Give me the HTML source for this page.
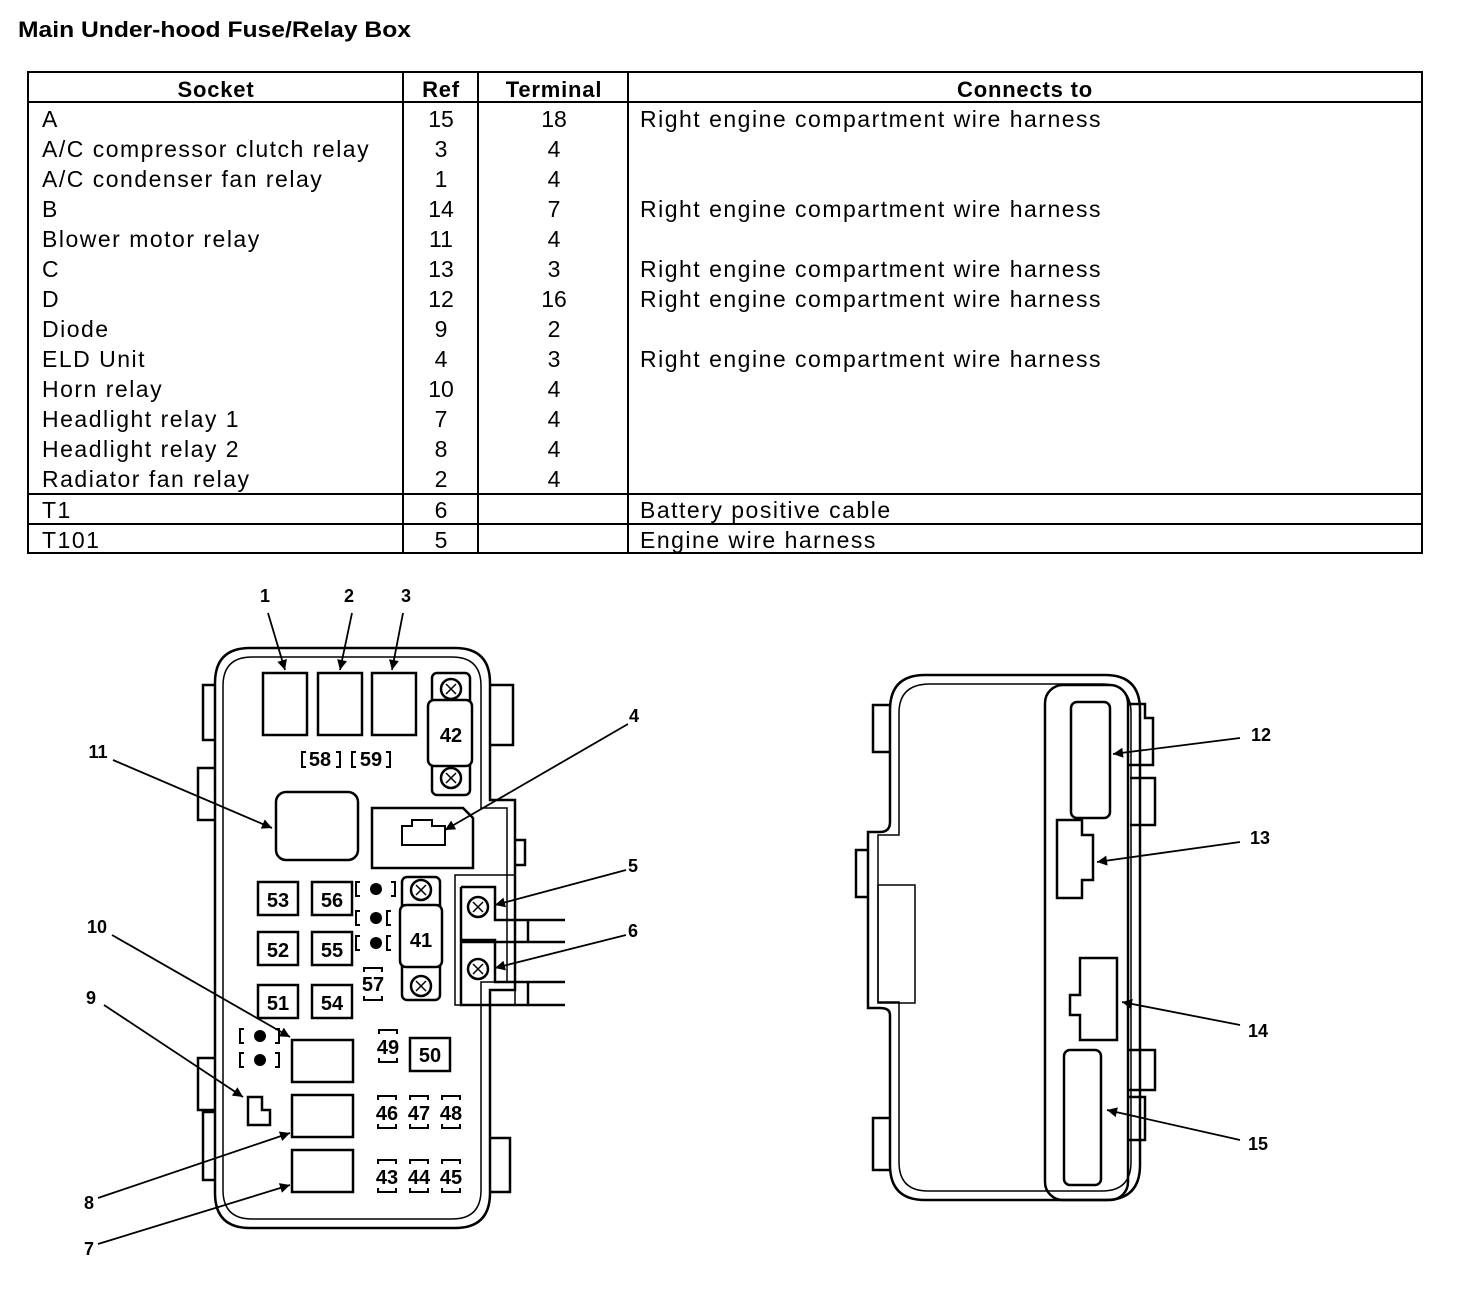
<!DOCTYPE html>
<html><head><style>
html,body{margin:0;padding:0;background:#fff;}
svg{display:block}
text{font-family:"Liberation Sans",Arial,sans-serif;fill:#000}
.b{font-weight:bold}
.t{letter-spacing:1.5px}
</style></head><body>
<svg width="1472" height="1294" viewBox="0 0 1472 1294" xmlns="http://www.w3.org/2000/svg">
<defs><marker id="ah" viewBox="0 0 10 10" refX="10" refY="5" markerWidth="20" markerHeight="10" orient="auto" markerUnits="userSpaceOnUse"><path d="M0,0L10,5L0,10z" fill="#000"/></marker></defs>
<text x="18" y="37" class="b" font-size="22" textLength="393" lengthAdjust="spacingAndGlyphs">Main Under-hood Fuse/Relay Box</text>
<g stroke="#000" stroke-width="2" fill="none">
<rect x="28" y="72" width="1394" height="481"/>
<line x1="28" y1="102" x2="1422" y2="102"/>
<line x1="28" y1="494" x2="1422" y2="494"/>
<line x1="28" y1="524" x2="1422" y2="524"/>
<line x1="403" y1="72" x2="403" y2="553"/>
<line x1="478" y1="72" x2="478" y2="553"/>
<line x1="628" y1="72" x2="628" y2="553"/>
</g>
<g font-size="22" class="b" text-anchor="middle" letter-spacing="0.8">
<text x="216" y="97">Socket</text><text x="441" y="97">Ref</text><text x="554" y="97">Terminal</text><text x="1025" y="97">Connects to</text>
</g>
<g font-size="23" class="t">
<text x="42" y="127">A</text>
<text x="42" y="157">A/C compressor clutch relay</text>
<text x="42" y="187">A/C condenser fan relay</text>
<text x="42" y="217">B</text>
<text x="42" y="247">Blower motor relay</text>
<text x="42" y="277">C</text>
<text x="42" y="307">D</text>
<text x="42" y="337">Diode</text>
<text x="42" y="367">ELD Unit</text>
<text x="42" y="397">Horn relay</text>
<text x="42" y="427">Headlight relay 1</text>
<text x="42" y="457">Headlight relay 2</text>
<text x="42" y="487">Radiator fan relay</text>
<text x="42" y="518">T1</text>
<text x="42" y="548">T101</text>
</g>
<g font-size="23" text-anchor="middle">
<text x="441" y="127">15</text><text x="441" y="157">3</text><text x="441" y="187">1</text><text x="441" y="217">14</text><text x="441" y="247">11</text><text x="441" y="277">13</text><text x="441" y="307">12</text><text x="441" y="337">9</text><text x="441" y="367">4</text><text x="441" y="397">10</text><text x="441" y="427">7</text><text x="441" y="457">8</text><text x="441" y="487">2</text><text x="441" y="518">6</text><text x="441" y="548">5</text>
<text x="554" y="127">18</text><text x="554" y="157">4</text><text x="554" y="187">4</text><text x="554" y="217">7</text><text x="554" y="247">4</text><text x="554" y="277">3</text><text x="554" y="307">16</text><text x="554" y="337">2</text><text x="554" y="367">3</text><text x="554" y="397">4</text><text x="554" y="427">4</text><text x="554" y="457">4</text><text x="554" y="487">4</text>
</g>
<g font-size="23" class="t">
<text x="640" y="127">Right engine compartment wire harness</text>
<text x="640" y="217">Right engine compartment wire harness</text>
<text x="640" y="277">Right engine compartment wire harness</text>
<text x="640" y="307">Right engine compartment wire harness</text>
<text x="640" y="367">Right engine compartment wire harness</text>
<text x="640" y="518">Battery positive cable</text>
<text x="640" y="548">Engine wire harness</text>
</g>

<!-- LEFT BOX -->
<g stroke="#000" fill="none" stroke-width="2.5">
<path d="M250,648 H455 Q490,648 490,683 V800 H515 V990 H490 V1193 Q490,1228 455,1228 H250 Q215,1228 215,1193 V683 Q215,648 250,648 Z"/>
<path d="M252,657 H452 Q481,657 481,686 V808 H507 V982 H481 V1190 Q481,1219 452,1219 H252 Q223,1219 223,1190 V686 Q223,657 252,657 Z" stroke-width="1.5"/>
<path d="M215,685 H203 V740 H215 M215,768 H198 V820 H215 M215,1058 H198 V1110 H215 M215,1112 H203 V1180 H215"/>
<path d="M490,685 H513 V745 H490 M490,1138 H510 V1192 H490 M515,840 H525 V865 H515"/>
<rect x="263" y="673" width="44" height="62"/><rect x="318" y="673" width="44" height="62"/><rect x="372" y="673" width="44" height="62"/>
<rect x="432" y="673" width="38" height="122" rx="5"/>
<rect x="428" y="700" width="44" height="66" rx="6" fill="#fff"/>
<circle cx="451" cy="689" r="10"/><circle cx="451" cy="778" r="10"/>
<path d="M306,752 h-4 v15 h4 M336,752 h4 v15 h-4 M356,752 h-4 v15 h4 M386,752 h4 v15 h-4" stroke-width="2"/>
<rect x="276" y="792" width="82" height="68" rx="10"/>
<path d="M372,808 H463 L473,818 V868 H372 Z"/>
<path d="M402,845 V826 H412 V820 H432 V826 H445 V845 Z" stroke-width="2"/>
<rect x="455" y="875" width="60" height="130" stroke-width="1.5"/>
<path d="M461,887 H495 V920 H565 M461,887 V942 H565 M461,940 H495 V982 H565 M461,940 V1005 H565" />
<path d="M528,920 V942 M528,982 V1005"/>
<circle cx="478" cy="907" r="10"/><circle cx="478" cy="969" r="10"/>
<rect x="402" y="877" width="38" height="123" rx="5"/>
<rect x="400" y="905" width="42" height="62" rx="6" fill="#fff"/>
<circle cx="421" cy="890" r="10"/><circle cx="421" cy="986" r="10"/>
<rect x="258" y="882" width="40" height="33"/><rect x="312" y="882" width="40" height="33"/>
<rect x="258" y="932" width="40" height="33"/><rect x="312" y="932" width="40" height="33"/>
<rect x="258" y="985" width="40" height="33"/><rect x="312" y="985" width="40" height="33"/>
<rect x="410" y="1038" width="40" height="33"/>
<rect x="292" y="1040" width="61" height="42"/><rect x="292" y="1095" width="61" height="42"/><rect x="292" y="1150" width="61" height="42"/>
<path d="M248,1097 H262 V1110 H270 V1125 H248 Z"/>
</g>
<g stroke="#000" fill="none" stroke-width="2">
<path d="M360,882 h-4 v14 h4 M391,882 h4 v14 h-4 M360,911 h-4 v14 h4 M391,911 h-4 v14 h4 M360,936 h-4 v14 h4 M391,936 h-4 v14 h4"/>
<path d="M244,1029 h-4 v14 h4 M275,1029 h4 v14 h-4 M244,1053 h-4 v14 h4 M275,1053 h4 v14 h-4"/>
<path d="M364,972 v-4 h18 v4 M364,996 v4 h18 v-4"/>
<path d="M379,1034 v-4 h18 v4 M379,1058 v4 h18 v-4"/>
<path d="M378,1100 v-4 h18 v4 M378,1124 v4 h18 v-4 M410,1100 v-4 h18 v4 M410,1124 v4 h18 v-4 M442,1100 v-4 h18 v4 M442,1124 v4 h18 v-4"/>
<path d="M378,1164 v-4 h18 v4 M378,1188 v4 h18 v-4 M410,1164 v-4 h18 v4 M410,1188 v4 h18 v-4 M442,1164 v-4 h18 v4 M442,1188 v4 h18 v-4"/>
</g>
<g fill="#000"><circle cx="376" cy="889" r="6"/><circle cx="376" cy="918" r="6"/><circle cx="376" cy="943" r="6"/><circle cx="260" cy="1036" r="6"/><circle cx="260" cy="1060" r="6"/></g>
<g stroke="#000" stroke-width="1.5"><path d="M446,684 l10,10 M456,684 l-10,10 M446,773 l10,10 M456,773 l-10,10 M416,885 l10,10 M426,885 l-10,10 M416,981 l10,10 M426,981 l-10,10 M473,902 l10,10 M483,902 l-10,10 M473,964 l10,10 M483,964 l-10,10"/></g>
<g font-size="20" class="b" text-anchor="middle">
<text x="451" y="742">42</text><text x="320" y="766">58</text><text x="371" y="766">59</text>
<text x="278" y="907">53</text><text x="332" y="907">56</text><text x="278" y="957">52</text><text x="332" y="957">55</text><text x="278" y="1010">51</text><text x="332" y="1010">54</text>
<text x="421" y="947">41</text><text x="373" y="991">57</text><text x="388" y="1054">49</text><text x="430" y="1062">50</text>
<text x="387" y="1120">46</text><text x="419" y="1120">47</text><text x="451" y="1120">48</text>
<text x="387" y="1184">43</text><text x="419" y="1184">44</text><text x="451" y="1184">45</text>
</g>
<g stroke="#000" stroke-width="1.8" marker-end="url(#ah)">
<line x1="268" y1="613" x2="285" y2="670"/><line x1="352" y1="613" x2="340" y2="670"/><line x1="403" y1="613" x2="392" y2="670"/>
<line x1="628" y1="724" x2="445" y2="830"/><line x1="113" y1="760" x2="272" y2="828"/>
<line x1="626" y1="870" x2="495" y2="905"/><line x1="626" y1="935" x2="495" y2="968"/>
<line x1="112" y1="935" x2="290" y2="1037"/><line x1="104" y1="1005" x2="243" y2="1097"/>
<line x1="98" y1="1198" x2="290" y2="1133"/><line x1="98" y1="1244" x2="290" y2="1185"/>
</g>
<g font-size="18" class="b" text-anchor="middle">
<text x="265" y="602">1</text><text x="349" y="602">2</text><text x="406" y="602">3</text><text x="634" y="722">4</text><text x="98" y="758">11</text>
<text x="633" y="872">5</text><text x="633" y="937">6</text><text x="97" y="933">10</text><text x="91" y="1004">9</text><text x="89" y="1209">8</text><text x="89" y="1255">7</text>
</g>

<!-- RIGHT BOX -->
<g stroke="#000" fill="none" stroke-width="2.5">
<path d="M925,675 H1105 Q1140,675 1140,710 V1165 Q1140,1200 1105,1200 H925 Q890,1200 890,1165 V1015 Q890,1008 880,1008 H868 V832 H880 Q890,832 890,822 V710 Q890,675 925,675 Z"/>
<path d="M930,684 H1102 Q1131,684 1131,713 V1162 Q1131,1191 1102,1191 H928 Q899,1191 899,1162 V1002 H878 V835 H899 V713 Q899,684 930,684 Z" stroke-width="1.5"/>
<rect x="878" y="885" width="37" height="118" stroke-width="1.5"/>
<path d="M890,705 H873 V752 H890 M890,1118 H873 V1170 H890 M868,850 H856 V897 H868"/>
<rect x="1045" y="685" width="83" height="515" rx="18"/>
<rect x="1071" y="702" width="39" height="116" rx="6"/>
<path d="M1057,820 H1082 V835 H1093 V880 H1082 V898 H1057 Z"/>
<path d="M1080,958 H1117 V1040 H1080 V1015 H1070 V995 H1080 Z"/>
<rect x="1064" y="1050" width="37" height="135" rx="6"/>
<path d="M1128,704 H1145 V718 H1153 V765 H1128 M1130,778 H1155 V825 H1130 M1128,1050 H1155 V1090 H1128 M1128,1097 H1145 V1140 H1128"/>
</g>
<g stroke="#000" stroke-width="1.8" marker-end="url(#ah)">
<line x1="1240" y1="738" x2="1113" y2="754"/><line x1="1240" y1="842" x2="1097" y2="862"/>
<line x1="1240" y1="1025" x2="1122" y2="1002"/><line x1="1240" y1="1140" x2="1107" y2="1110"/>
</g>
<g font-size="18" class="b" text-anchor="middle">
<text x="1261" y="741">12</text><text x="1260" y="844">13</text><text x="1258" y="1037">14</text><text x="1258" y="1150">15</text>
</g>
</svg>
</body></html>
